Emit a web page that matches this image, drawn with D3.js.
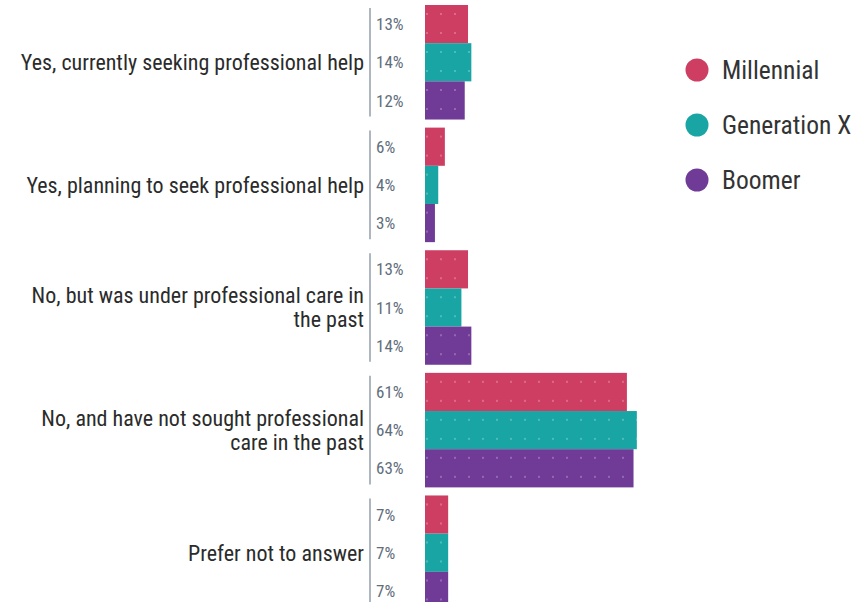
<!DOCTYPE html>
<html>
<head>
<meta charset="utf-8">
<script src="https://cdn.jsdelivr.net/npm/d3@7"></script>
<style>
  html, body { margin: 0; padding: 0; background: #fff; }
  svg { display: block; }
  .cat { font-family: "Liberation Sans Narrow", "Roboto Condensed", Roboto, sans-serif; fill: #2b2b2b; }
  .pct { font-family: "Liberation Sans Narrow", "Roboto Condensed", Roboto, sans-serif; fill: #5f6e7c; }
  .leg { font-family: "Liberation Sans Narrow", "Roboto Condensed", Roboto, sans-serif; fill: #333; }
</style>
</head>
<body>
<svg id="chart" width="860" height="602"></svg>
<script>
// Survey answers (one group of bars per answer)
const categories = [
  "Yes, currently seeking professional help",
  "Yes, planning to seek professional help",
  "No, but was under professional care in the past",
  "No, and have not sought professional care in the past",
  "Prefer not to answer"
];
// Wrapped label lines for each answer
const categoryLines = [
  ["Yes, currently seeking professional help"],
  ["Yes, planning to seek professional help"],
  ["No, but was under professional care in", "the past"],
  ["No, and have not sought professional", "care in the past"],
  ["Prefer not to answer"]
];
const seriesNames = ["Millennial", "Generation X", "Boomer"];
const millennial = [13, 6, 13, 61, 7];
const generationX = [14, 4, 11, 64, 7];
const boomer = [12, 3, 14, 63, 7];
const seriesValues = [millennial, generationX, boomer];
const seriesColors = ["#cd3e62", "#18a5a4", "#703a97"];

const svg = d3.select("#chart");

// Dotted texture laid over the bars
const defs = svg.append("defs");
const pat = defs.append("pattern")
  .attr("id", "dots").attr("patternUnits", "userSpaceOnUse")
  .attr("width", 14).attr("height", 19);
pat.append("circle").attr("cx", 7).attr("cy", 9).attr("r", 0.9)
  .attr("fill", "#fff").attr("opacity", 0.35);

const y0 = d3.scaleBand().domain(categories).range([5, 610]).paddingInner(0.066).paddingOuter(0);
const y1 = d3.scaleBand().domain(seriesNames).range([0, y0.bandwidth()]);
const x = d3.scaleLinear().domain([0, 100]).range([425, 756]);

const groups = svg.selectAll("g.group")
  .data(categories.map((c, i) => ({ c, i })))
  .join("g").attr("class", "group")
  .attr("transform", d => `translate(0,${y0(d.c)})`);

// Separator line for each group
groups.append("line")
  .attr("x1", 370).attr("x2", 370)
  .attr("y1", 3).attr("y2", y0.bandwidth() - 3)
  .attr("stroke", "#aeb6bf").attr("stroke-width", 2);

// Bars
groups.each(function (d) {
  const g = d3.select(this);
  seriesNames.forEach((s, k) => {
    const v = seriesValues[k][d.i];
    g.append("rect")
      .attr("x", x(0)).attr("y", y1(s))
      .attr("width", x(v) - x(0)).attr("height", y1.bandwidth())
      .attr("fill", seriesColors[k]);
    g.append("rect")
      .attr("x", x(0)).attr("y", y1(s))
      .attr("width", x(v) - x(0)).attr("height", y1.bandwidth())
      .attr("fill", "url(#dots)");
    g.append("text").attr("class", "pct")
      .attr("x", 376).attr("y", y1(s) + y1.bandwidth() / 2)
      .attr("dy", "0.36em").attr("font-size", 17)
      .text(v + "%");
  });
  // Category label, right-aligned beside the separator
  const lines = categoryLines[d.i];
  const lh = 24;
  const t = g.append("text").attr("class", "cat")
    .attr("text-anchor", "end").attr("font-size", 22);
  lines.forEach((ln, j) => {
    t.append("tspan").attr("x", 364)
      .attr("y", y0.bandwidth() / 2 + (j - (lines.length - 1) / 2) * lh)
      .attr("dy", "0.36em").text(ln);
  });
});

// Legend
const legend = svg.append("g");
seriesNames.forEach((s, k) => {
  const ly = 70 + k * 55;
  legend.append("circle").attr("cx", 697).attr("cy", ly).attr("r", 11.5).attr("fill", seriesColors[k]);
  legend.append("text").attr("class", "leg").attr("x", 722).attr("y", ly)
    .attr("dy", "0.36em").attr("font-size", 25.5).text(s);
});
</script>
</body>
</html>
